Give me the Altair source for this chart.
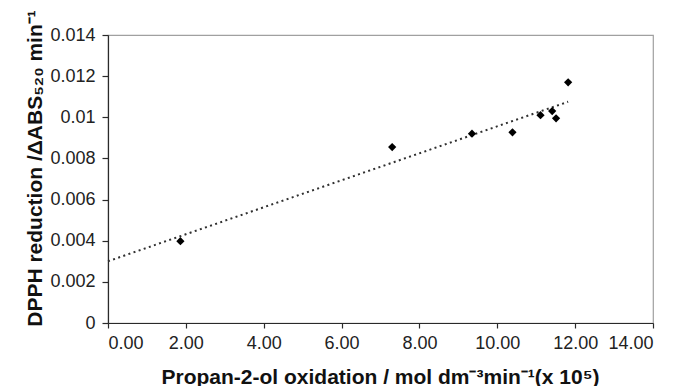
import altair as alt
import pandas as pd

# Data
x_vals = [1.86, 7.30, 9.35, 10.39, 11.11, 11.41, 11.51, 11.82]
y_vals = [0.00398, 0.00855, 0.00920, 0.00927, 0.01010, 0.01030, 0.00995, 0.01170]
x_ticks = [0, 2, 4, 6, 8, 10, 12, 14]
y_ticks = [0, 0.002, 0.004, 0.006, 0.008, 0.010, 0.012, 0.014]

df = pd.DataFrame({"x": x_vals, "y": y_vals})

FONT = "Liberation Sans"
AXIS_COLOR = "#2a2a2a"

x_enc = alt.X(
    "x:Q",
    scale=alt.Scale(domain=[0, 14], nice=False, zero=False),
    axis=alt.Axis(
        values=x_ticks,
        format=".2f",
        title="Propan-2-ol oxidation / mol dm⁻³min⁻¹(x 10⁵)",
        titleX=272,
        titleY=60,
        titleAlign="center",
        titleBaseline="alphabetic",
        titleAnchor="middle",
        tickSize=5,
        labelPadding=6,
    ),
)
y_enc = alt.Y(
    "y:Q",
    scale=alt.Scale(domain=[0, 0.014], nice=False, zero=False),
    axis=alt.Axis(
        values=y_ticks,
        format="~g",
        title="DPPH reduction /ΔABS₅₂₀ min⁻¹",
        titleX=-67,
        titleY=133,
        titleAngle=-90,
        titleAlign="center",
        titleBaseline="alphabetic",
        titleAnchor="middle",
        tickSize=6,
        labelPadding=7,
    ),
)

points = alt.Chart(df).mark_point(
    shape="diamond", filled=True, color="black", size=68, opacity=1
).encode(x=x_enc, y=y_enc)

trend = (
    alt.Chart(df)
    .transform_regression("x", "y", extent=[0, 11.82])
    .mark_line(color="#303030", strokeDash=[2, 3.4], strokeWidth=2)
    .encode(x="x:Q", y="y:Q")
)

chart = (
    alt.layer(trend, points)
    .properties(
        width=545,
        height=288,
        autosize=alt.AutoSizeParams(type="none"),
        padding={"left": 108, "top": 35, "right": 29, "bottom": 63},
    )
    .configure(background="white")
    .configure_view(stroke="#a0a0a0", strokeWidth=1.2)
    .configure_axis(
        grid=False,
        domainColor=AXIS_COLOR,
        domainWidth=1.2,
        tickColor=AXIS_COLOR,
        tickWidth=1.2,
        labelFont=FONT,
        labelFontSize=18,
        labelColor="#222222",
        titleFont=FONT,
        titleFontSize=21,
        titleFontWeight="bold",
        titleColor="#111111",
    )
)

chart.save("out.html", embed_options={"renderer": "svg", "actions": False})
